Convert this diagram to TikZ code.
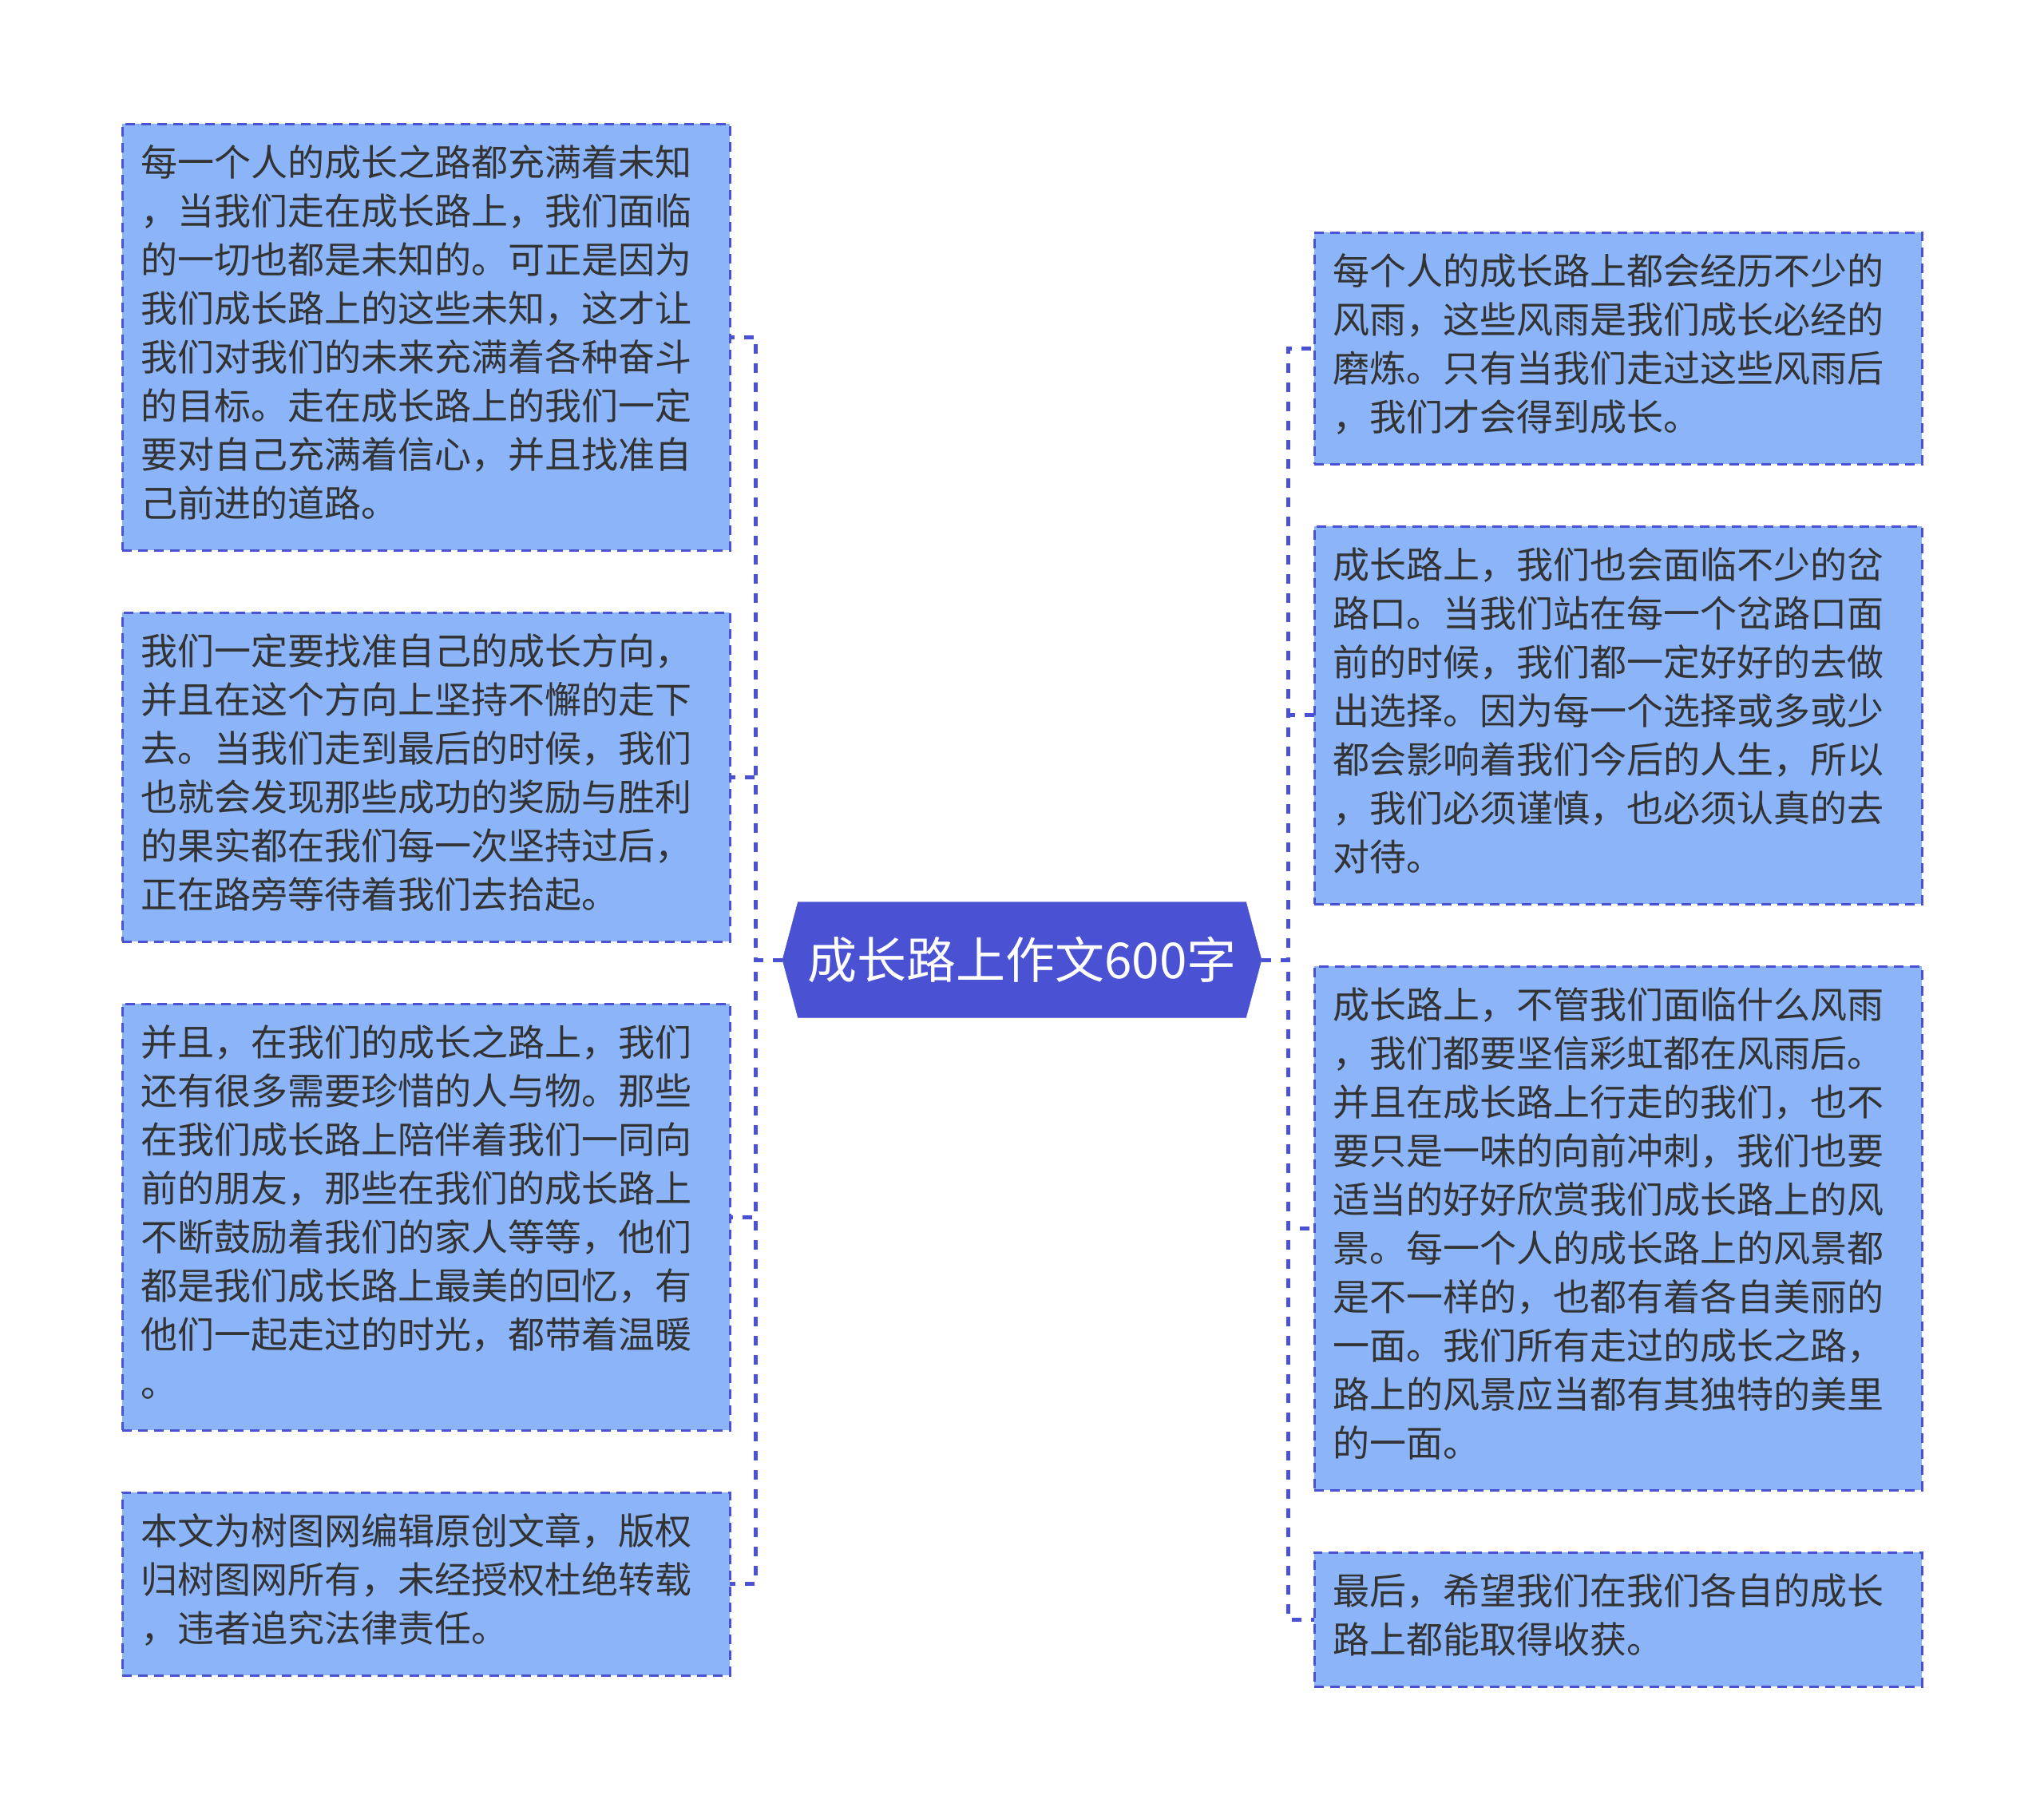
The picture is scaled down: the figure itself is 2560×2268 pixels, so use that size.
\documentclass[tikz,border=0pt]{standalone}
\usepackage{fontspec}
\setmainfont{Noto Sans CJK SC}
\usetikzlibrary{positioning, shapes.symbols}
\definecolor{stblue}{HTML}{4A51D3}
\definecolor{stfill}{HTML}{8BB4F9}
\definecolor{sttext}{HTML}{333333}

\begin{document}
\begin{tikzpicture}[
      x=1pt, y=-1pt, node distance=78pt,
      card/.style={draw=stblue, fill=stfill, line width=3pt,
                   dash pattern=on 12pt off 8pt, text=sttext,
                   text width=715pt, inner xsep=23pt, inner ysep=23pt,
                   outer sep=0pt, align=left,
                   font=\fontsize{46pt}{61pt}\selectfont,
                   execute at begin node=\strut, execute at end node=\strut},
      hub/.style={signal, signal to=west and east, signal pointer angle=150,
                  fill=stblue, draw=stblue, text=white, inner sep=0pt,
                  minimum width=600pt, minimum height=145pt,
                  font=\fontsize{62pt}{74pt}\selectfont},
      link/.style={draw=stblue, line width=5pt, dash pattern=on 12pt off 12pt},
    ]
    \fill[white] (0,0) rectangle (2560,2268);
    \useasboundingbox (0,0) rectangle (2560,2268);

    \node[hub] (hub) at (1280,1202) {成长路上作文600字};

    % left column
    \node[card, anchor=north west] (l1) at (153,155)
      {每一个人的成长之路都充满着未知\\，当我们走在成长路上，我们面临\\的一切也都是未知的。可正是因为\\我们成长路上的这些未知，这才让\\我们对我们的未来充满着各种奋斗\\的目标。走在成长路上的我们一定\\要对自己充满着信心，并且找准自\\己前进的道路。};
    \node[card, below=of l1] (l2)
      {我们一定要找准自己的成长方向，\\并且在这个方向上坚持不懈的走下\\去。当我们走到最后的时候，我们\\也就会发现那些成功的奖励与胜利\\的果实都在我们每一次坚持过后，\\正在路旁等待着我们去拾起。};
    \node[card, below=of l2] (l3)
      {并且，在我们的成长之路上，我们\\还有很多需要珍惜的人与物。那些\\在我们成长路上陪伴着我们一同向\\前的朋友，那些在我们的成长路上\\不断鼓励着我们的家人等等，他们\\都是我们成长路上最美的回忆，有\\他们一起走过的时光，都带着温暖\\。};
    \node[card, below=of l3] (l4)
      {本文为树图网编辑原创文章，版权\\归树图网所有，未经授权杜绝转载\\，违者追究法律责任。};

    % right column
    \node[card, anchor=north west] (r1) at (1646,291)
      {每个人的成长路上都会经历不少的\\风雨，这些风雨是我们成长必经的\\磨炼。只有当我们走过这些风雨后\\，我们才会得到成长。};
    \node[card, below=of r1] (r2)
      {成长路上，我们也会面临不少的岔\\路口。当我们站在每一个岔路口面\\前的时候，我们都一定好好的去做\\出选择。因为每一个选择或多或少\\都会影响着我们今后的人生，所以\\，我们必须谨慎，也必须认真的去\\对待。};
    \node[card, below=of r2] (r3)
      {成长路上，不管我们面临什么风雨\\，我们都要坚信彩虹都在风雨后。\\并且在成长路上行走的我们，也不\\要只是一味的向前冲刺，我们也要\\适当的好好欣赏我们成长路上的风\\景。每一个人的成长路上的风景都\\是不一样的，也都有着各自美丽的\\一面。我们所有走过的成长之路，\\路上的风景应当都有其独特的美里\\的一面。};
    \node[card, below=of r3] (r4)
      {最后，希望我们在我们各自的成长\\路上都能取得收获。};

    \coordinate[left=33pt of hub.west] (jl);
    \coordinate[right=33pt of hub.east] (jr);
    \foreach \b in {l1,l2,l3,l4}
      \draw[link] (hub.west) -- (jl) |- (\b.east);
    \foreach \b in {r1,r2,r3,r4}
      \draw[link] (hub.east) -- (jr) |- (\b.west);
  \end{tikzpicture}
\end{document}
